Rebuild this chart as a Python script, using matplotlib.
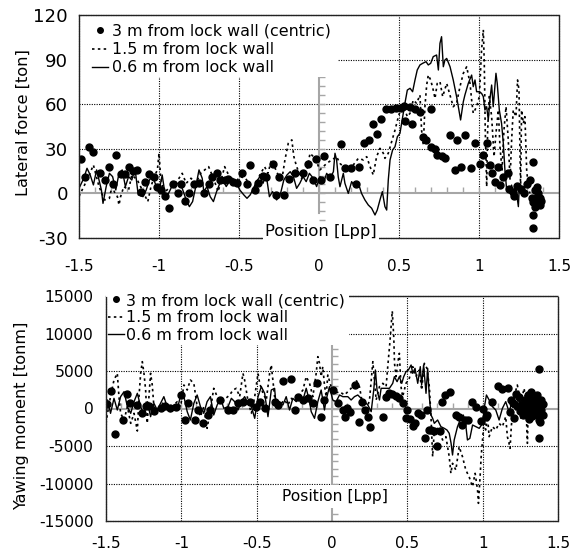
import matplotlib
matplotlib.use('Agg')
import matplotlib.pyplot as plt
from matplotlib.lines import Line2D
from matplotlib.patches import Rectangle

plt.rcParams['font.family'] = ['DejaVu Sans']
plt.rcParams['font.size'] = 11.4
plt.rcParams['axes.unicode_minus'] = False

labels = ['3 m from lock wall (centric)', '1.5 m from lock wall', '0.6 m from lock wall']

# ---- lateral force [ton] ----
lat3_x = [-1.49, -1.46, -1.44, -1.41, -1.37, -1.34, -1.31, -1.29, -1.27, -1.24,
          -1.21, -1.19, -1.16, -1.14, -1.11, -1.09, -1.06, -1.03, -1.01, -0.99,
          -0.96, -0.94, -0.91, -0.88, -0.86, -0.84, -0.81, -0.78, -0.75, -0.72,
          -0.69, -0.67, -0.64, -0.62, -0.59, -0.57, -0.54, -0.51, -0.48, -0.45,
          -0.43, -0.40, -0.38, -0.35, -0.33, -0.29, -0.27, -0.25, -0.22, -0.19,
          -0.15, -0.10, -0.07, -0.04, -0.02, 0.01, 0.03, 0.07, 0.135, 0.16,
          0.20, 0.23, 0.25, 0.28, 0.31, 0.34, 0.36, 0.39, 0.42, 0.45,
          0.48, 0.51, 0.53, 0.54, 0.57, 0.58, 0.60, 0.63, 0.65, 0.67,
          0.70, 0.70, 0.725, 0.74, 0.77, 0.79, 0.82, 0.85, 0.86, 0.89,
          0.91, 0.95, 0.975, 1.005, 1.027, 1.048, 1.069, 1.08, 1.10, 1.12,
          1.13, 1.15, 1.18, 1.19, 1.21, 1.22, 1.24, 1.26, 1.28, 1.30,
          1.32, 1.34, 1.33, 1.34, 1.35, 1.36, 1.37, 1.38, 1.36, 1.35,
          1.37, 1.39, 1.38, 1.34, 1.335]
lat3_y = [23, 11, 31, 28, 14, 9, 18, 6, 26, 13,
          13, 18, 15, 16, 1, 8, 13, 11, 4, 2,
          -2, -10, 6, 0, 6, -5, 0, 6, 7, 0,
          6, 11, 14, 9, 9, 10, 8, 7, 14, 6,
          19, 2, 7, 12, 11, 20, -1, 11, -1, 10,
          14, 14, 20, 9, 23, 9, 25, 11, 33, 17,
          17, 6, 18, 34, 36, 47, 40, 50, 56.5, 57,
          57.5, 57.5, 58.5, 49, 58, 47, 56.5, 55, 38, 36,
          57, 31, 30, 26, 25, 24, 39, 16, 36, 18,
          39, 17, 34, 20, 26, 34, 19, 13.5, 8, 18,
          5.6, 11, 13.5, 3, 1, -2, 5, 3, 0, 6,
          9, 21, -3, -6, 2, -4, -7, -3, 4, -9,
          0, -5, -8, -14.5, -23.5]

lat15_x = [-1.50, -1.47, -1.44, -1.41, -1.375, -1.34, -1.31, -1.29, -1.28, -1.26,
           -1.25, -1.24, -1.22, -1.19, -1.17, -1.135, -1.10, -1.07, -1.05, -1.03,
           -1.01, -1.00, -0.99, -0.97, -0.94, -0.91, -0.875, -0.855, -0.83, -0.80,
           -0.77, -0.74,
           -0.69, -0.66, -0.63, -0.59, -0.56, -0.525, -0.495, -0.46, -0.43, -0.40,
           -0.37, -0.34, -0.32, -0.296, -0.265, -0.234, -0.213, -0.192, -0.17, -0.157,
           -0.14, -0.11, -0.077, -0.056, -0.025, 0.006, 0.037,
           0.048, 0.11, 0.131, 0.173, 0.214, 0.246, 0.277, 0.298, 0.319, 0.339,
           0.36, 0.381, 0.402, 0.412, 0.433, 0.454, 0.475, 0.496, 0.516, 0.537,
           0.552, 0.569, 0.589, 0.61, 0.631, 0.641, 0.652, 0.662, 0.673, 0.683,
           0.698, 0.714, 0.725, 0.739, 0.756, 0.773,
           0.798, 0.839, 0.86, 0.881, 0.902, 0.923, 0.944, 0.954, 0.964, 0.985,
           1.002, 1.016, 1.027, 1.033, 1.039, 1.048, 1.054, 1.064, 1.079, 1.094,
           1.106, 1.121, 1.131, 1.144, 1.156, 1.169, 1.183, 1.194, 1.204, 1.214,
           1.231, 1.241, 1.25, 1.256, 1.26, 1.266, 1.277, 1.287, 1.298, 1.308,
           1.318]
lat15_y = [-2, 4.6, 11.3, 19.1, 4.6, -4.4, -3.3, 6.8, 1.2, -2.2,
           -7.8, -2.2, 4.6, 2.3, 12.4, 9.0, 1.2, -5.5, 4.6, 11.3,
           15.8, 27.0, 11.3, 0.1, 3.4, 5.7, 10.2, 13.5, 6.8, 10.2,
           6.8, 13.5,
           18.0, 10.2, 1.2, 18.0, 11.3, 6.8, 11.3, 10.2, 5.7, 4.6,
           12.4, 18.0, 13.5, 22.5, 14.6, 7.9, 22.5, 33.7, 36.0, 24.7,
           18.0, 10.2, 14.6, 27.0, 23.6, 15.8, 19.1,
           20.2, 24.7, 20.2, 15.7, 19.1, 23.6, 22.5, 24.7, 18.0, 12.4,
           24.7, 30.3, 27.0, 23.6, 27.0, 34.8, 42.6, 51.6, 58.3, 56.1,
           51.6, 53.9, 62.8, 60.6, 66.2, 42.6, 32.6, 58.3, 72.9, 79.6,
           76.3, 69.5, 63.9, 74.0, 75.2, 65.1,
           74.0, 58.3, 60.6, 71.8, 80.8, 85.2, 74.0, 62.8, 53.9, 58.3,
           65.1, 96.4, 110, 87.5, 42.6, 4.5, 42.6, 65.1, 51.6, 24.7,
           40.4, 56.1, 31.4, 15.7, 42.6, 58.3, 35.9, 9.0, 35.9, 56.1,
           51.6, 76.3, 69.5, 31.4, 2.3, 56.1, 47.1, 51.6, 15.7, 4.5,
           0.0]

lat06_x = [-1.50, -1.47, -1.45, -1.43, -1.41, -1.39, -1.36, -1.35, -1.33, -1.31,
           -1.29, -1.27, -1.25, -1.23, -1.21, -1.19, -1.17, -1.15, -1.13, -1.10,
           -1.08, -1.06, -1.04, -1.02, -1.00, -0.98, -0.96, -0.94, -0.92, -0.90,
           -0.875, -0.855, -0.83, -0.81, -0.79, -0.77, -0.75, -0.73,
           -0.72, -0.70, -0.68, -0.66, -0.64, -0.62, -0.60, -0.58, -0.56, -0.54,
           -0.515, -0.495, -0.47, -0.45, -0.43, -0.41, -0.39, -0.37, -0.35, -0.33,
           -0.31, -0.29, -0.265, -0.24, -0.22, -0.20, -0.18, -0.16, -0.14, -0.12,
           -0.10, -0.08, -0.06, -0.036, -0.015, 0.006,
           0.027, 0.048, 0.069, 0.09, 0.10, 0.11, 0.12, 0.131, 0.152, 0.162,
           0.183, 0.204, 0.225, 0.246, 0.266, 0.287, 0.308, 0.329, 0.35, 0.364,
           0.381, 0.396, 0.412, 0.423, 0.433, 0.444, 0.46, 0.475, 0.49, 0.506,
           0.523, 0.537, 0.552, 0.569, 0.585, 0.60, 0.614, 0.631, 0.648, 0.669,
           0.683, 0.698, 0.714, 0.735, 0.746, 0.756, 0.766,
           0.777, 0.787, 0.798, 0.819, 0.839, 0.86, 0.871, 0.885, 0.902, 0.912,
           0.933, 0.954, 0.964, 0.975, 0.985, 1.002, 1.016, 1.027, 1.037, 1.048,
           1.058, 1.069, 1.079, 1.089, 1.096, 1.106, 1.114, 1.127, 1.141, 1.152,
           1.162, 1.173, 1.183, 1.194, 1.204, 1.214, 1.225, 1.235, 1.246, 1.252,
           1.26]
lat06_y = [3.4, 10.2, 16.9, 12.4, 5.7, 15.8, 2.3, -6.7, 4.6, 13.5,
           11.3, 2.3, 13.5, 15.8, 4.6, 11.3, 9.0, 16.9, -1.0, -2.2,
           2.3, 9.0, 11.3, 5.7, 1.2, 12.4, -2.2, 0.1, 4.6, 6.8,
           6.8, 3.4, -4.4, -8.9, -5.5, 4.6, 15.8, 10.2,
           1.2, 4.6, -2.2, -5.5, 1.2, 6.8, 9.0, 4.6, 7.9, 10.2,
           6.8, 2.3, -1.0, -3.3, -1.0, 3.4, 7.9, 11.3, 6.8, 12.4,
           -2.2, 1.2, -4.4, 0.1, 9.0, 12.4, 14.6, 11.3, 3.4, 6.8,
           11.3, 7.9, 13.5, 10.2, 4.6, 11.3,
           6.8, 13.5, 10.1, 14.6, 27.0, 22.5, 11.3, 4.5, 13.5, 6.8,
           0.0, 7.9, 4.5, 6.8, 0.0, -4.4, -7.8, -10.0, -14.5, -11.2,
           -4.4, 1.2, -8.9, -11.2, 9.0, 22.5, 29.2, 31.4, 38.2, 40.4,
           51.6, 60.6, 69.5, 70.7, 68.4, 76.3, 83.0, 86.4, 87.5, 88.6,
           86.4, 87.5, 92.0, 93.1, 83.0, 100.9, 105.4,
           85.2, 89.7, 90.8, 85.2, 76.3, 65.1, 58.3, 49.4, 61.7, 66.2,
           74.0, 79.6, 71.8, 76.3, 68.4, 68.4, 67.3, 65.1, 56.1, 58.3,
           49.4, 63.9, 72.9, 58.3, 67.3, 80.8, 74.0, 56.1, 47.1, 33.7,
           15.7, 2.3, 4.5, 0.0, 5.6, -2.2, 2.3, 0.0, -8.9, 4.5,
           0.0]

# ---- yawing moment [tonm] ----
yaw3_x = [-1.495, -1.466, -1.44, -1.385, -1.363, -1.34, -1.296, -1.264, -1.237, -1.215,
          -1.18, -1.136, -1.106, -1.077, -1.033, -1.004, -0.977, -0.955, -0.911, -0.889,
          -0.856, -0.823, -0.81, -0.745,
          -0.69, -0.657, -0.624, -0.59, -0.546, -0.502, -0.48, -0.447, -0.38, -0.359,
          -0.326, -0.275, -0.248, -0.226, -0.193, -0.16, -0.127, -0.098, -0.072, -0.05,
          0.005, 0.038, 0.07,
          0.085, 0.10, 0.12, 0.15, 0.18, 0.20, 0.22, 0.24, 0.255, 0.34,
          0.36, 0.38, 0.40, 0.425, 0.445, 0.47, 0.49, 0.50, 0.515, 0.535,
          0.55, 0.57, 0.59, 0.617, 0.63, 0.645, 0.66, 0.68, 0.70, 0.715,
          0.73, 0.75, 0.78, 0.82, 0.84, 0.866, 0.88, 0.90, 0.93, 0.955,
          0.99, 1.00, 1.02, 1.03, 1.065, 1.10, 1.13, 1.165, 1.19, 1.22,
          1.18, 1.20, 1.21, 1.23, 1.24, 1.25, 1.26, 1.27, 1.28, 1.29,
          1.30, 1.30, 1.31, 1.32, 1.32, 1.33, 1.33, 1.34, 1.35, 1.35,
          1.36, 1.36, 1.37, 1.37, 1.38, 1.38, 1.39, 1.39, 1.40, 1.40,
          1.31, 1.28, 1.374, 1.374, 1.374, 1.38]
yaw3_y = [600, 2380, -3350, -1487, 1934, 733, 511, -600, 289, 378,
          -290, 67, 289, 67, 156, 1845, -1487, 733, -1487, -155,
          -1933, -911, -155, 1178,
          -200, -200, 690, 912, 912, 245, 912, 23, 912, 467,
          3712, 3890, -200, 1578, 1134, 1356, 690, 3356, -1177, 1134,
          2467, 690, -200,
          -1100, 100, -450, 3100, -1850, 900, -200, -1150, -2450, -1177,
          1600, 2100, 2000, 1700, 1400, 700, -1300, -200, -1450, -2300,
          -1950, -600, -800, -3950, -200, -2800, -2850, -3000, -5050, -2950,
          900, 1800, 2250, -870, -1100, -2200, -1500, -1550, 900, 250,
          -1650, -70, -1090, -870, 900, 2950, 2600, 2700, 1200, 2000,
          -500, 800, -1200, 300, 1500, -300, 600, -900, 1200, 200,
          -600, 1800, 900, -200, 2200, 500, -1000, 1300, -400, 800,
          1800, 0, -900, 1000, 300, -500, 1200, -200, 600, -800,
          -1400, -300, 5220, -3980, -1530, -1800]

yaw15_x = [-1.50, -1.49, -1.47, -1.447, -1.425, -1.414, -1.403, -1.38, -1.358, -1.336,
           -1.314, -1.292, -1.281, -1.27, -1.259, -1.248, -1.237, -1.226, -1.215, -1.204,
           -1.193, -1.182, -1.16, -1.138, -1.116, -1.094, -1.072, -1.05, -1.027, -1.005,
           -0.983, -0.961, -0.94, -0.917, -0.895, -0.873, -0.851, -0.829, -0.807, -0.785,
           -0.762, -0.74, -0.718,
           -0.679, -0.657, -0.635, -0.613, -0.591, -0.58, -0.557, -0.535, -0.513, -0.491,
           -0.48, -0.458, -0.436, -0.414, -0.403, -0.381, -0.359, -0.337, -0.315, -0.293,
           -0.27, -0.248, -0.226, -0.193, -0.171, -0.149, -0.127, -0.105, -0.094, -0.083,
           -0.072, -0.061, -0.05, -0.039, -0.028, -0.006, 0.016, 0.05, 0.083,
           0.127, 0.16, 0.182, 0.204, 0.226, 0.249, 0.271, 0.293, 0.315, 0.337,
           0.359, 0.37, 0.385, 0.40, 0.41, 0.415, 0.425, 0.436, 0.447, 0.458,
           0.469, 0.491, 0.513, 0.536, 0.557, 0.58, 0.595, 0.613, 0.63, 0.646,
           0.657, 0.668, 0.679, 0.69, 0.712, 0.734, 0.756, 0.778, 0.789, 0.80,
           0.822, 0.844, 0.866, 0.888, 0.91, 0.932, 0.95, 0.966, 0.972, 0.983,
           0.99, 0.999, 1.01, 1.02, 1.032, 1.043, 1.065, 1.087, 1.109, 1.131,
           1.153, 1.164, 1.175, 1.182, 1.19, 1.208, 1.23, 1.253, 1.275, 1.286,
           1.297, 1.303, 1.319]
yaw15_y = [-2000, -644, 1578, 3800, 4690, 1578, -644, -1533, 245, -1977,
           -644, -3000, 1578, 4690, 6245, 4690, 2467, -1977, 1578, 4690,
           3134, 245, -644, 245, 912, 23, -200, 467, 912, 245,
           3134, 2467, 3800, 3356, 245, -1088, 245, -2644, -200, 2690,
           1578, 912, 1134,
           1800, 2467, 2690, 1578, 4690, 3800, 912, -644, 1578, 4690,
           3356, 2023, 1134, 4690, 5800, 1578, 912, 690, 1134, 467,
           1356, 912, 1578, 2467, 4245, 3356, 1578, 4690, 6912, 6023,
           4245, 5578, 3134, 1578, 4467, 2912, 2023, 2245, 1800,
           2690, 3800, 2912, 467, -422, 1134, 6245, 1134, 2912, 3356,
           2912, 5578, 9000, 13000, 9500, 6000, 4245, 6023, 7356, 2912,
           1578, 3356, 4023, 5578, 4245, 5134, 2467, 6023, 5356, 2912,
           -1088, -6422, -2866, -2422, -2866, -4200, -3755, -6422, -8644, -7310,
           -8200, -5088, -6422, -8200, -9088, -10420, -8644, -10866, -12644, -9088,
           -6422, -4200, -1533, -2866, -1088, -3755, -2422, -2866, -1977, -2422,
           -1088, -3755, -4644, -5310, -2422, 1578, 3134, 690, 2690, 1134,
           -4644, 690, 1578]

yaw06_x = [-1.50, -1.49, -1.47, -1.447, -1.425, -1.403, -1.38, -1.358, -1.336, -1.314,
           -1.292, -1.27, -1.248, -1.226, -1.204, -1.182, -1.16, -1.138, -1.116, -1.094,
           -1.072, -1.05, -1.027, -1.005, -0.983, -0.961, -0.94, -0.917, -0.895, -0.873,
           -0.851, -0.829, -0.807, -0.785, -0.762, -0.74, -0.718,
           -0.69, -0.668, -0.646, -0.624, -0.602, -0.58, -0.557, -0.535, -0.513, -0.491,
           -0.469, -0.447, -0.425, -0.403, -0.381, -0.37, -0.348, -0.326, -0.304, -0.282,
           -0.26, -0.237, -0.215, -0.193, -0.171, -0.149, -0.138, -0.116, -0.094, -0.072,
           -0.05, -0.039, -0.017, 0.005, 0.027, 0.05, 0.072,
           0.105, 0.127, 0.149, 0.171, 0.193, 0.215, 0.238, 0.26, 0.277, 0.288,
           0.299, 0.315, 0.326, 0.359, 0.381, 0.403, 0.414, 0.432, 0.447, 0.463,
           0.476, 0.491, 0.507, 0.525, 0.536, 0.551, 0.569, 0.586, 0.595, 0.608,
           0.624, 0.635, 0.646, 0.657, 0.668, 0.679, 0.701, 0.723, 0.745, 0.763,
           0.778, 0.79,
           0.80, 0.811, 0.833, 0.855, 0.871, 0.884, 0.899, 0.915, 0.933, 0.955,
           0.977, 1.0, 1.01, 1.025, 1.043, 1.065, 1.087, 1.109, 1.131, 1.153,
           1.175, 1.197, 1.22, 1.242, 1.253, 1.275, 1.297, 1.319, 1.34]
yaw06_y = [467, 1134, -644, 1356, -200, 1578, 2245, 245, -644, 912,
           2023, 245, -866, 912, -1088, 690, -200, 690, 1578, 245,
           -422, 467, -200, 1800, 1578, -422, -1533, 690, 1800, 245,
           -644, 912, 1578, -866, 467, 1356, 23,
           245, 1356, 912, -200, 912, 1578, 690, 245, -1310, 1578,
           2912, 2023, -1088, 2467, 2690, 245, 912, 467, 1578, -200,
           1356, 912, 1578, 1134, 2690, 912, -422, -1310, 912, 2467,
           -200, 1134, 2912, 1134, 912, 1800, 1578,
           1578, 1134, 1578, 1800, 1356, 912, 467, -422, 2467, 5134,
           2467, 1134, 2690, 2690, 2690, 3356, 4245, 3578, 4245, 3356,
           4245, 4912, 5134, 5800, 4690, 5356, 3356, 5578, 3134, 5800,
           2023, 5356, 1578, -866, -1310, -1977, -1533, -2422, -2644, -2866,
           -3310, -4600,
           -6200, -4200, -2420, -1310, -866, -1533, -4200, -3976, -2200, -2420,
           -2644, -1977, 23, 1800, 1134, 245, -200, -1533, 23, 912,
           -422, 912, -200, 1578, -1310, 467, 1578, 690, 245]

x_ticks = [-1.5, -1, -0.5, 0, 0.5, 1, 1.5]
x_ticklabels = ['-1.5', '-1', '-0.5', '0', '0.5', '1', '1.5']
lat_ticks = [-30, 0, 30, 60, 90, 120]
yaw_ticks = [-15000, -10000, -5000, 0, 5000, 10000, 15000]

GRAY = '#a6a6a6'
DOT = (0, (1.5, 2.0))
GRID = (0, (1, 1.2))

W, H = 577, 557
fig = plt.figure(figsize=(W / 100, H / 100), dpi=100)
ax1 = fig.add_axes([79 / W, 1 - 238 / H, 480 / W, 223 / H])
ax2 = fig.add_axes([106 / W, 1 - 521 / H, 452 / W, 225 / H])


def frame(ax, ylim, yticks, hgrid, ystep, ypad, xpad, ysize):
    ax.set_xlim(-1.5, 1.5)
    ax.set_ylim(*ylim)
    ax.set_xticks(x_ticks)
    ax.set_xticklabels(x_ticklabels)
    ax.set_yticks(yticks)
    ax.tick_params(axis='both', length=0)
    ax.tick_params(axis='x', pad=xpad, labelsize=11)
    ax.tick_params(axis='y', pad=ypad, labelsize=ysize)
    for v in hgrid:
        ax.axhline(v, color='black', lw=0.8, ls=GRID, zorder=1)
    for v in [-1, -0.5, 0.5, 1]:
        ax.axvline(v, color='black', lw=0.8, ls=GRID, zorder=1)
    ax.axhline(0, color=GRAY, lw=1.5, zorder=1.2)
    # small tick marks on the gray axes
    xm = [round(-1.4 + 0.1 * i, 1) for i in range(29)]
    ax.plot(xm, [0] * len(xm), ls='none', marker=2, ms=4, mew=1, color=GRAY, zorder=1.2)
    n = int(round((ylim[1] - ylim[0]) / ystep))
    ym = [ylim[0] + ystep * i for i in range(1, n)]
    ax.plot([0] * len(ym), ym, ls='none', marker=1, ms=4, mew=1, color=GRAY, zorder=1.2)
    for sp in ax.spines.values():
        sp.set_linestyle((0, (1, 0.8)))
        sp.set_linewidth(1.0)
        sp.set_color('#222222')
        sp.set_zorder(5)


frame(ax1, (-30, 120), lat_ticks, [30, 60, 90], 6, 8, 15, 13.1)
frame(ax2, (-15000, 15000), yaw_ticks, [-10000, -5000, 5000, 10000], 1000, 9, 10.5, 11.2)

ax1.axvline(0, ymin=17 / 150, color=GRAY, lw=1.5, zorder=1.2)
ax2.axvline(0, color=GRAY, lw=1.5, zorder=1.2)

ax1.plot(lat15_x, lat15_y, color='black', lw=1.2, ls=DOT, zorder=2)
ax1.plot(lat06_x, lat06_y, color='black', lw=1.0, zorder=2.1)
ax1.plot(lat3_x, lat3_y, ls='none', marker='o', ms=5, color='black', zorder=2.2)

ax2.plot(yaw15_x, yaw15_y, color='black', lw=1.2, ls=DOT, zorder=2)
ax2.plot(yaw06_x, yaw06_y, color='black', lw=1.0, zorder=2.1)
ax2.plot(yaw3_x, yaw3_y, ls='none', marker='o', ms=5, color='black', zorder=2.2)

# white areas behind the legends
ax1.add_patch(Rectangle((0, 0.722), 0.54, 0.278, transform=ax1.transAxes,
                        facecolor='white', edgecolor='none', zorder=3))
ax2.add_patch(Rectangle((0, 0.782), 0.538, 0.25, transform=ax2.transAxes,
                        facecolor='white', edgecolor='none', zorder=3, clip_on=False))
ax2.spines['top'].set_zorder(2.5)

handles = [Line2D([], [], ls='none', marker='o', ms=4, color='black'),
           Line2D([], [], ls=DOT, lw=1.2, color='black'),
           Line2D([], [], ls='-', lw=1.0, color='black')]
for ax, hx, ty, pad, sp in [(ax1, 92, 24, 0.25, 0.2), (ax2, 108, 293, 0.12, 0.15)]:
    leg = ax.legend(handles, labels, loc='upper left', bbox_to_anchor=(hx / W, 1 - ty / H),
                    bbox_transform=fig.transFigure, frameon=False, borderpad=0,
                    borderaxespad=0, handlelength=1.0, handletextpad=pad,
                    labelspacing=sp, fontsize=11.4)
    leg.set_zorder(4)

ax1.text(0.01, -25.5, 'Position [Lpp]', ha='center', va='center', zorder=6, fontsize=11.8,
         bbox=dict(facecolor='white', edgecolor='none', pad=1.5))
ax2.text(0.02, -11700, 'Position [Lpp]', ha='center', va='center', zorder=6, fontsize=11.2,
         bbox=dict(facecolor='white', edgecolor='none', pad=3))

fig.text(23 / W, 1 - 123 / H, 'Lateral force [ton]', rotation=90, ha='center', va='center',
         fontsize=11.7)
fig.text(22 / W, 1 - 416 / H, 'Yawing moment [tonm]', rotation=90, ha='center', va='center',
         fontsize=11.6)

fig.savefig('out.png', dpi=100)
